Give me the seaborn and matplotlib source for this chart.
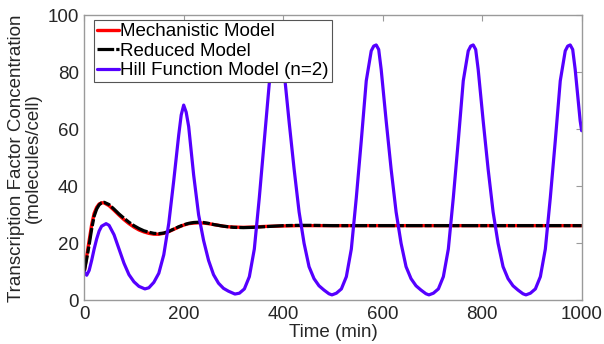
import pandas as pd
import matplotlib
matplotlib.use('Agg')
import matplotlib.pyplot as plt
import seaborn as sns

# Damped models
damped_t = [0, 5, 10, 15, 20, 25, 30, 35, 40, 50, 60, 70, 80, 90, 100, 110, 120, 130, 140, 150,
            160, 170, 180, 190, 200, 210, 220, 230, 240, 250, 260, 270, 280, 290, 300, 320, 340,
            360, 380, 400, 430, 460, 500, 600, 700, 800, 900, 1000]
mechanistic = [10, 15.5, 21, 26.5, 30.5, 32.6, 33.8, 34.2, 34.2, 33.2, 31.6, 29.9, 28.3, 26.9, 25.7,
               24.7, 24.0, 23.5, 23.2, 23.2, 23.5, 24.1, 24.9, 25.7, 26.4, 26.9, 27.1, 27.2, 27.1,
               26.9, 26.6, 26.3, 26.0, 25.8, 25.7, 25.6, 25.7, 25.9, 26.0, 26.1, 26.2, 26.2, 26.2,
               26.2, 26.2, 26.2, 26.2, 26.2]
reduced = [10, 14.5, 19.5, 25, 29.5, 32, 33.5, 34.2, 34.4, 33.6, 32, 30.3, 28.8, 27.4, 26.2, 25.2,
           24.4, 23.9, 23.5, 23.4, 23.6, 24.2, 25.0, 25.8, 26.5, 27.0, 27.3, 27.4, 27.3, 27.0, 26.6,
           26.3, 26.0, 25.8, 25.6, 25.5, 25.6, 25.8, 26.0, 26.2, 26.3, 26.3, 26.2, 26.2, 26.2, 26.2,
           26.2, 26.2]

# Hill function model (n=2), oscillating
hill_t = [0, 5, 10, 15, 20, 25, 30, 35, 44, 50, 60, 70, 80, 90, 100, 110, 122, 130, 140, 150,
          160, 170, 180, 190, 195, 200, 205, 210, 220, 230, 240, 250, 260, 270, 280, 290, 303,
          312, 322, 332, 342, 352, 362, 372, 382, 387, 392, 397, 402, 412, 422, 432, 442, 452,
          462, 472, 482, 492, 498,
          507, 517, 527, 537, 547, 557, 567, 577, 582, 587, 592, 597, 607, 617, 627, 637, 647,
          657, 667, 677, 687, 693,
          702, 712, 722, 732, 742, 752, 762, 772, 777, 782, 787, 792, 802, 812, 822, 832, 842,
          852, 862, 872, 882, 888,
          897, 907, 917, 927, 937, 947, 957, 967, 972, 977, 982, 987, 997, 1000]
hill = [10.0, 8.8, 10.5, 14.0, 18.0, 21.5, 24.3, 26.0, 26.9, 26.3, 23.0, 18.0, 13.0, 9.0, 6.5, 4.9,
        4.0, 4.4, 6.3, 9.5, 16.0, 27.0, 42.0, 58.0, 65.0, 68.5, 66.0, 61.0, 44.0, 30.0, 21.0, 14.0,
        9.0, 6.0, 4.2, 3.2, 2.2,
        2.5, 4.0, 8.3, 18, 36, 56, 76, 86, 87.5, 88, 86.5, 80, 62.5, 46, 31, 20, 11.8,
        7.6, 5.1, 3.6, 2.3, 1.9,
        2.5, 4.0, 8.3, 18, 36, 56, 77, 87.5, 89.2, 89.6, 88, 81, 63, 46, 31, 20, 11.8,
        7.6, 5.1, 3.6, 2.3, 1.9,
        2.5, 4.0, 8.3, 18, 36, 56, 77, 87.5, 89.2, 89.6, 88, 81, 63, 46, 31, 20, 11.8,
        7.6, 5.1, 3.6, 2.3, 1.9,
        2.5, 4.0, 8.3, 18, 36, 56, 77, 87.5, 89.2, 89.6, 88, 81, 63, 59.5]

df_damped = pd.DataFrame({'Time': damped_t, 'Mechanistic': mechanistic, 'Reduced': reduced})
df_hill = pd.DataFrame({'Time': hill_t, 'Hill': hill})

sns.set_theme(style='white')
plt.rcParams['font.family'] = ['Liberation Sans', 'DejaVu Sans']
plt.rcParams['lines.scale_dashes'] = False
plt.rcParams['lines.solid_joinstyle'] = 'round'
plt.rcParams['lines.dash_joinstyle'] = 'round'

text_col = '#262626'
axis_col = '#9a9a9a'

fig = plt.figure(figsize=(6.04, 3.44), dpi=100)
ax = fig.add_axes([0.1394, 0.127, 0.8236, 0.8285])

sns.lineplot(data=df_damped, x='Time', y='Mechanistic', ax=ax, color='#ff0000', lw=2.4,
             label='Mechanistic Model')
sns.lineplot(data=df_damped, x='Time', y='Reduced', ax=ax, color='black', lw=2.3,
             label='Reduced Model')
ax.lines[-1].set_dashes((12, 1.5, 5, 1.5))
sns.lineplot(data=df_hill, x='Time', y='Hill', ax=ax, color='#5500ff', lw=2.3,
             label='Hill Function Model (n=2)')

ax.set_xlim(0, 1000)
ax.set_ylim(0, 100)
ax.set_xticks([0, 200, 400, 600, 800, 1000])
ax.set_yticks([0, 20, 40, 60, 80, 100])
ax.set_xlabel('Time (min)', fontsize=13.5, color=text_col, labelpad=1)
ax.set_ylabel('Transcription Factor Concentration\n(molecules/cell)', fontsize=13.5,
              color=text_col, labelpad=4, linespacing=0.95)

for sp in ax.spines.values():
    sp.set_visible(True)
    sp.set_color(axis_col)
    sp.set_linewidth(1.0)
ax.tick_params(direction='in', length=4, width=0.8, color=axis_col, top=True, right=True,
               labelsize=13.5, labelcolor=text_col, pad=4)

leg = ax.legend(loc='upper left', bbox_to_anchor=(0.02, 0.982), borderaxespad=0,
                fontsize=13.5, frameon=True, fancybox=False, framealpha=1,
                edgecolor='#555555', borderpad=0.15, labelspacing=0.12,
                handlelength=1.15, handletextpad=0.1)
leg.get_frame().set_linewidth(0.8)
for t in leg.get_texts():
    t.set_color('black')

fig.savefig('out.png', dpi=100)
